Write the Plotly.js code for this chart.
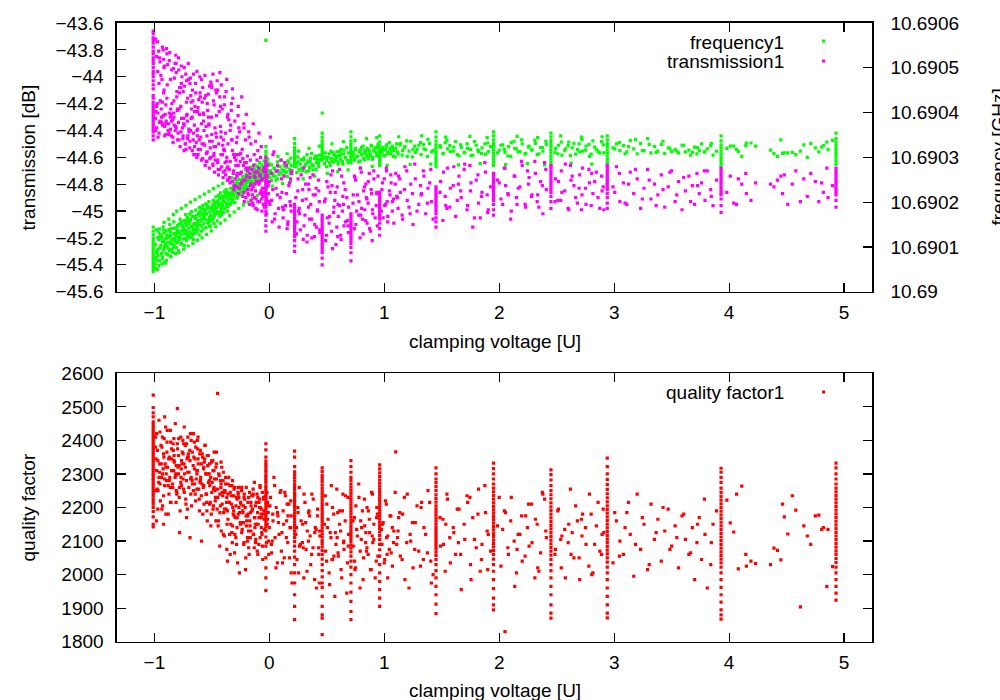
<!DOCTYPE html>
<html><head><meta charset="utf-8">
<script src="https://cdn.plot.ly/plotly-3.0.1.min.js"></script>
<style>html,body{margin:0;padding:0;background:#fff}#chart{width:1000px;height:700px}</style>
</head><body><div id="chart"></div>
<script>
// ---------- scattered measurements (voltage, transmission dB, frequency GHz, quality factor) ----------
const scatterVoltage = [
-0.99,-0.99,-0.98,-0.98,-0.97,-0.97,-0.96,-0.96,-0.95,-0.94,
-0.93,-0.93,-0.92,-0.92,-0.91,-0.91,-0.90,-0.90,-0.89,-0.88,
-0.87,-0.87,-0.86,-0.86,-0.85,-0.85,-0.84,-0.83,-0.83,-0.82,
-0.81,-0.81,-0.80,-0.80,-0.79,-0.79,-0.78,-0.77,-0.77,-0.76,
-0.75,-0.75,-0.74,-0.74,-0.73,-0.72,-0.72,-0.71,-0.71,-0.70,
-0.69,-0.69,-0.68,-0.68,-0.67,-0.66,-0.66,-0.65,-0.65,-0.64,
-0.63,-0.63,-0.62,-0.62,-0.61,-0.60,-0.60,-0.59,-0.59,-0.58,
-0.57,-0.57,-0.56,-0.55,-0.55,-0.54,-0.54,-0.53,-0.52,-0.52,
-0.51,-0.50,-0.50,-0.49,-0.49,-0.48,-0.48,-0.47,-0.46,-0.46,
-0.45,-0.45,-0.44,-0.43,-0.43,-0.42,-0.42,-0.41,-0.40,-0.40,
-0.39,-0.39,-0.38,-0.37,-0.37,-0.36,-0.36,-0.35,-0.34,-0.34,
-0.33,-0.32,-0.32,-0.31,-0.31,-0.30,-0.30,-0.29,-0.28,-0.28,
-0.27,-0.27,-0.26,-0.25,-0.25,-0.24,-0.24,-0.23,-0.22,-0.22,
-0.21,-0.20,-0.20,-0.19,-0.19,-0.18,-0.18,-0.17,-0.16,-0.16,
-0.15,-0.14,-0.14,-0.13,-0.13,-0.12,-0.12,-0.11,-0.10,-0.10,
-0.09,-0.09,-0.08,-0.08,-0.07,-0.07,-0.06,-0.06,-0.05,-0.05,
0.00,0.01,0.02,0.03,0.04,0.05,0.06,0.07,0.08,0.10,
0.11,0.12,0.13,0.14,0.15,0.16,0.17,0.18,0.19,0.19,
0.23,0.24,0.25,0.26,0.27,0.29,0.30,0.31,0.32,0.33,
0.34,0.35,0.36,0.37,0.38,0.40,0.41,0.42,0.43,0.44,
0.48,0.49,0.50,0.52,0.53,0.54,0.55,0.56,0.57,0.58,
0.59,0.60,0.61,0.62,0.63,0.64,0.65,0.66,0.68,0.69,
0.73,0.74,0.75,0.76,0.78,0.79,0.80,0.81,0.82,0.83,
0.84,0.85,0.86,0.87,0.88,0.89,0.90,0.91,0.93,0.94,
0.98,0.99,1.00,1.01,1.02,1.03,1.05,1.06,1.07,1.08,
1.10,1.12,1.14,1.16,1.18,1.20,1.23,1.25,1.27,1.30,
1.32,1.34,1.36,1.38,1.41,1.49,1.51,1.53,1.55,1.57,
1.60,1.62,1.65,1.67,1.70,1.72,1.75,1.77,1.80,1.82,
1.85,1.88,1.90,2.00,2.03,2.05,2.08,2.10,2.13,2.15,
2.18,2.20,2.23,2.26,2.28,2.31,2.33,2.36,2.38,2.41,
2.49,2.51,2.54,2.57,2.60,2.62,2.65,2.68,2.70,2.72,
2.75,2.78,2.80,2.83,2.86,2.89,2.91,2.99,3.02,3.05,
3.08,3.11,3.14,3.17,3.20,3.23,3.26,3.29,3.32,3.35,
3.38,3.41,3.44,3.47,3.50,3.53,3.56,3.59,3.62,3.65,
3.68,3.70,3.72,3.74,3.76,3.79,3.81,3.84,3.86,3.89,
3.98,4.01,4.04,4.08,4.11,4.15,4.19,4.23,4.36,4.39,
4.42,4.45,4.48,4.51,4.55,4.58,4.62,4.65,4.68,4.71,
4.75,4.78,4.82,4.85,4.86,4.90,
-0.985,-0.962,-0.991,-0.948,-0.973,-0.956,-0.982,-0.943,-0.968,-0.951,
-0.938,-0.917,-0.929,-0.902,-0.924,-0.911,-0.934,-0.906,-0.920,-0.897,
-0.891,-0.873,-0.884,-0.858,-0.879,-0.866,-0.852,-0.888,-0.861,-0.847,
-0.842,-0.826,-0.837,-0.811,-0.831,-0.818,-0.804,-0.828,-0.814,-0.799,
-0.794,-0.781,-0.788,-0.763,-0.776,-0.769,-0.757,-0.784,-0.766,-0.752,
-0.746,-0.731,-0.738,-0.716,-0.727,-0.709,-0.721,-0.742,-0.713,-0.704,
-0.698,-0.683,-0.692,-0.671,-0.686,-0.662,-0.677,-0.657,-0.668,-0.652,
-0.647,-0.636,-0.641,-0.623,-0.631,-0.614,-0.626,-0.608,-0.618,-0.603,
-0.597,-0.584,-0.591,-0.572,-0.579,-0.563,-0.575,-0.558,-0.568,-0.553,
-0.548,-0.536,-0.543,-0.522,-0.531,-0.514,-0.526,-0.509,-0.518,-0.503,
-0.497,-0.486,-0.491,-0.473,-0.481,-0.465,-0.477,-0.459,-0.469,-0.454,
-0.448,-0.436,-0.442,-0.421,-0.431,-0.414,-0.426,-0.408,-0.418,-0.402,
-0.397,-0.386,-0.391,-0.372,-0.381,-0.364,-0.376,-0.359,-0.368,-0.353,
-0.348,-0.336,-0.342,-0.322,-0.331,-0.314,-0.326,-0.307,-0.318,-0.302,
-0.297,-0.286,-0.291,-0.272,-0.281,-0.264,-0.276,-0.259,-0.268,-0.253,
-0.247,-0.236,-0.241,-0.222,-0.231,-0.214,-0.226,-0.207,-0.218,-0.202,
-0.197,-0.186,-0.191,-0.172,-0.181,-0.164,-0.176,-0.159,-0.168,-0.153,
-0.147,-0.136,-0.141,-0.122,-0.131,-0.114,-0.126,-0.107,-0.118,-0.102,
-0.097,-0.086,-0.091,-0.072,-0.081,-0.064,-0.076,-0.057,-0.068,-0.052,
-0.047,-0.042,-0.021,-0.016,-0.012,-0.008,-0.044,-0.019,-0.010,-0.005,
0.005,0.018,0.032,0.046,0.058,0.071,0.085,0.094,0.105,0.124,
0.135,0.148,0.162,0.175,0.186,0.197,0.236,0.248,0.262,0.277,
0.288,0.302,0.316,0.328,0.341,0.355,0.368,0.382,0.394,0.407,
0.418,0.428,0.438,0.487,0.498,0.511,0.524,0.536,0.549,0.562,
0.574,0.587,0.598,0.611,0.624,0.636,0.648,0.662,0.674,0.687,
0.728,0.741,0.753,0.766,0.778,0.791,0.803,0.816,0.827,0.838,
0.849,0.861,0.873,0.886,0.897,0.909,0.921,0.934,0.945,0.975,
0.985,1.004,1.018,1.031,1.044,1.057,1.071,1.083,1.095,1.108,
1.115,1.135,1.155,1.175,1.195,1.215,1.245,1.265,1.285,1.315,
1.345,1.375,1.395,1.425,1.485,1.515,1.545,1.575,1.605,1.635,
1.665,1.695,1.725,1.755,1.785,1.815,1.845,1.875,1.905,1.925,
1.985,2.015,2.045,2.075,2.105,2.135,2.165,2.195,2.225,2.255,
2.285,2.315,2.345,2.375,2.405,2.485,2.515,2.545,2.575,2.605,
2.635,2.665,2.695,2.725,2.755,2.785,2.815,2.845,2.875,2.905,
3.005,3.045,3.095,3.125,3.185,3.245,3.305,3.365,3.425,3.485,
3.545,3.605,3.665,3.725,3.785,3.845,4.065,4.145,4.465,4.805,
-0.975,-0.955,-0.935,-0.915,-0.895,-0.875,-0.855,-0.835,-0.815,-0.805,
-0.785,-0.765,-0.745,-0.725,-0.705,-0.685,-0.665,-0.645,-0.625,-0.605,
-0.585,-0.565,-0.545,-0.525,-0.505,-0.485,-0.465,-0.445,-0.425,-0.405,
-0.385,-0.365,-0.345,-0.325,-0.305,-0.285,-0.265,-0.245,-0.225,-0.205,
-0.185,-0.165,-0.145,-0.125,-0.105,-0.085,-0.065,-0.045,-0.025,-0.015,
0.025,0.075,0.115,0.155,0.185,0.255,0.295,0.345,0.395,0.435,
0.505,0.545,0.595,0.645,0.685,0.745,0.795,0.845,0.895,0.935,
1.025,1.125,1.225,1.325,1.405,1.535,1.645,1.745,1.835,1.895,
2.055,2.155,2.245,2.335,2.395,2.535,2.625,2.715,2.805,2.895
];
const scatterTransmission = [
-43.72,-44.31,-43.85,-44.38,-44.27,-43.96,-44.42,-44.05,-44.33,-44.24,
-43.78,-44.36,-44.12,-44.29,-43.92,-44.44,-44.21,-44.35,-43.83,-44.40,
-43.88,-44.27,-44.02,-44.39,-44.33,-43.95,-44.45,-44.18,-44.30,-43.90,
-44.38,-43.97,-44.25,-44.47,-43.86,-44.34,-44.08,-44.41,-44.22,-44.00,
-44.44,-44.11,-43.93,-44.36,-44.50,-44.03,-44.29,-44.46,-44.16,-44.39,
-44.05,-44.48,-44.31,-44.19,-44.55,-43.98,-44.42,-44.26,-44.52,-44.12,
-44.40,-43.96,-44.58,-44.23,-44.47,-44.15,-44.54,-44.02,-44.35,-44.61,
-44.28,-44.50,-43.99,-44.63,-44.37,-44.20,-44.56,-44.30,-44.07,-44.48,
-44.60,-44.08,-44.43,-44.66,-43.98,-44.52,-44.21,-44.62,-44.12,-44.45,
-44.10,-44.64,-44.50,-43.97,-44.69,-44.41,-44.58,-44.24,-44.71,-44.47,
-44.55,-44.15,-44.73,-44.60,-44.02,-44.67,-44.28,-44.76,-44.40,-44.63,
-44.20,-44.78,-44.09,-44.70,-44.58,-44.33,-44.81,-44.62,-44.45,-44.74,
-44.66,-44.22,-44.83,-44.57,-44.72,-44.15,-44.79,-44.61,-44.86,-44.38,
-44.77,-44.64,-44.28,-44.84,-44.70,-44.41,-44.88,-44.75,-44.50,-44.80,
-44.69,-44.82,-44.35,-44.90,-44.74,-44.48,-44.85,-44.78,-44.55,-44.93,
-44.80,-44.42,-44.87,-44.73,-44.91,-44.52,-44.83,-44.76,-44.70,-44.86,
-44.78,-44.45,-44.92,-44.84,-44.56,-45.02,-44.70,-44.88,-44.98,-44.62,
-44.86,-45.05,-44.74,-44.96,-44.66,-45.10,-44.81,-44.93,-44.72,-45.00,
-44.90,-45.08,-44.76,-44.98,-45.14,-44.84,-44.68,-45.03,-44.91,-45.18,
-44.80,-45.06,-44.95,-45.20,-44.73,-44.88,-45.12,-44.99,-44.85,-45.16,
-44.93,-45.22,-44.78,-45.09,-44.86,-45.15,-44.70,-45.01,-44.92,-45.25,
-44.82,-45.04,-44.96,-45.18,-44.74,-44.89,-45.11,-44.84,-45.07,-44.97,
-44.88,-45.13,-44.77,-45.00,-44.93,-45.20,-44.71,-45.06,-44.85,-44.99,
-44.80,-45.09,-44.94,-44.72,-45.15,-44.87,-45.02,-44.76,-44.96,-45.11,
-44.84,-45.05,-44.76,-44.95,-44.70,-45.08,-44.88,-44.79,-45.00,-44.91,
-44.72,-44.98,-44.86,-45.06,-44.67,-44.92,-44.80,-45.10,-44.76,-44.95,
-44.88,-44.70,-45.02,-44.83,-44.93,-44.78,-45.07,-44.89,-44.68,-44.97,
-44.81,-45.04,-44.74,-44.90,-44.65,-44.99,-44.85,-45.12,-44.77,-44.94,
-44.86,-44.71,-45.01,-44.79,-44.95,-44.68,-44.88,-45.06,-44.74,-44.90,
-44.82,-44.66,-44.97,-44.75,-44.89,-44.63,-44.93,-44.78,-45.02,-44.84,
-44.76,-44.92,-44.70,-44.85,-44.98,-44.66,-44.81,-44.94,-44.73,-44.88,
-44.83,-44.69,-44.96,-44.78,-44.90,-44.74,-44.99,-44.82,-44.67,-44.93,
-44.79,-44.95,-44.71,-44.87,-44.76,-44.98,-44.83,-44.69,-44.91,-44.80,
-44.88,-44.73,-44.97,-44.82,-44.70,-44.93,-44.78,-44.99,-44.85,-44.74,
-44.81,-44.95,-44.72,-44.87,-44.79,-44.92,-44.70,-44.84,-44.96,-44.77,
-44.86,-44.74,-44.94,-44.76,-44.80,-44.87,-44.92,-44.79,-44.80,-44.82,
-44.77,-44.74,-44.73,-44.95,-44.80,-44.70,-44.93,-44.76,-44.89,-44.72,
-44.78,-44.93,-44.86,-44.68,-44.90,-44.81,
-44.26,-43.81,-44.40,-44.18,-43.74,-44.34,-44.22,-43.99,-44.45,-43.89,
-44.30,-43.93,-44.19,-44.43,-43.80,-44.37,-44.02,-44.28,-43.87,-44.33,
-44.16,-44.41,-43.91,-44.24,-44.35,-43.82,-44.44,-44.06,-44.30,-44.20,
-44.32,-44.01,-44.49,-43.90,-44.27,-44.40,-44.11,-44.36,-43.84,-44.24,
-44.42,-44.12,-43.95,-44.31,-44.52,-44.08,-44.38,-44.24,-43.92,-44.46,
-44.35,-44.50,-44.07,-44.28,-43.98,-44.44,-44.19,-44.55,-44.33,-44.02,
-44.41,-44.14,-44.53,-44.30,-44.01,-44.47,-44.24,-44.58,-44.10,-44.36,
-44.22,-44.49,-44.05,-44.39,-44.60,-44.17,-44.44,-44.28,-44.54,-44.12,
-44.45,-44.19,-44.62,-44.33,-44.08,-44.51,-44.27,-44.66,-44.40,-44.14,
-44.57,-44.25,-44.44,-44.68,-44.13,-44.53,-44.36,-44.04,-44.61,-44.30,
-44.48,-44.18,-44.65,-44.38,-44.57,-44.10,-44.71,-44.29,-44.52,-44.03,
-44.62,-44.26,-44.73,-44.45,-44.15,-44.67,-44.37,-44.58,-44.06,-44.75,
-44.54,-44.70,-44.21,-44.63,-44.42,-44.77,-44.11,-44.50,-44.68,-44.32,
-44.69,-44.36,-44.79,-44.55,-44.25,-44.72,-44.47,-44.84,-44.16,-44.60,
-44.76,-44.49,-44.66,-44.29,-44.82,-44.58,-44.72,-44.41,-44.87,-44.63,
-44.80,-44.54,-44.71,-44.35,-44.89,-44.64,-44.77,-44.47,-44.93,-44.68,
-44.74,-44.87,-44.59,-44.95,-44.68,-44.81,-44.45,-44.92,-44.72,-44.84,
-44.88,-44.66,-44.96,-44.75,-44.58,-44.91,-44.80,-44.62,-44.98,-44.71,
-44.79,-44.93,-44.68,-44.85,-44.74,-45.00,-44.60,-44.89,-44.77,-44.95,
-44.83,-44.70,-44.91,-44.78,-44.66,-44.87,-44.97,-44.74,-44.81,-44.93,
-44.95,-44.72,-44.58,-45.06,-44.83,-44.66,-45.12,-44.90,-44.76,-44.99,
-44.64,-44.87,-45.08,-44.79,-44.96,-44.70,-45.17,-44.85,-45.02,-44.73,
-44.92,-45.11,-44.80,-45.23,-44.97,-44.75,-45.06,-44.88,-45.19,-44.83,
-45.00,-44.77,-45.14,-44.91,-45.18,-44.82,-45.04,-44.73,-45.28,-44.97,
-44.86,-45.12,-44.95,-44.69,-45.21,-45.00,-44.79,-45.08,-44.90,-45.16,
-44.94,-44.74,-45.10,-44.88,-45.03,-44.68,-44.98,-45.17,-44.82,-45.07,
-44.91,-44.78,-45.13,-44.84,-44.99,-44.70,-45.05,-44.87,-44.74,-45.00,
-44.79,-44.96,-44.68,-45.04,-44.85,-44.73,-44.93,-45.09,-44.80,-44.89,
-44.90,-44.76,-45.03,-44.84,-44.70,-44.97,-44.87,-44.65,-45.00,-44.81,
-44.74,-44.94,-44.79,-45.06,-44.86,-44.71,-44.98,-44.83,-44.67,-44.92,
-44.85,-44.69,-44.96,-44.79,-45.05,-44.73,-44.89,-44.64,-44.99,-44.82,
-44.77,-44.91,-44.68,-44.87,-45.00,-44.74,-44.83,-44.63,-44.95,-44.80,
-44.88,-44.72,-44.97,-44.81,-44.69,-44.93,-44.78,-44.86,-44.65,-44.99,
-44.74,-44.90,-44.83,-44.68,-44.95,-44.79,-44.87,-44.71,-44.98,-44.82,
-44.86,-44.72,-44.94,-44.80,-44.69,-44.91,-44.77,-44.96,-44.84,-44.71,
-44.88,-44.75,-44.93,-44.81,-44.70,-44.89,-44.95,-44.72,-44.87,-44.79,
-44.20,-43.86,-44.34,-44.10,-43.79,-44.43,-44.28,-43.94,-44.37,-44.15,
-44.47,-44.05,-44.31,-44.54,-43.90,-44.40,-44.18,-44.58,-44.26,-44.00,
-44.50,-44.16,-44.63,-44.35,-44.06,-44.59,-44.42,-44.69,-44.22,-44.51,
-44.64,-44.30,-44.75,-44.47,-44.82,-44.58,-44.38,-44.79,-44.66,-44.90,
-44.84,-44.62,-44.94,-44.71,-44.99,-44.78,-44.87,-44.68,-45.02,-44.80,
-45.08,-44.70,-44.97,-45.13,-44.76,-45.00,-45.21,-44.84,-45.10,-44.93,
-45.05,-44.81,-45.19,-44.95,-45.11,-44.75,-45.03,-44.90,-45.22,-44.86,
-44.93,-44.74,-45.02,-44.87,-44.69,-44.96,-44.80,-44.66,-45.05,-44.88,
-44.81,-44.95,-44.70,-44.88,-44.64,-44.92,-44.77,-44.99,-44.72,-44.85
];
const scatterFrequency = [
10.690062,10.690105,10.690088,10.690071,10.690121,10.690095,10.690058,10.690132,10.690099,10.690084,
10.690112,10.690077,10.690093,10.690138,10.690066,10.690102,10.690119,10.690085,10.690127,10.690097,
10.690091,10.690123,10.690108,10.690079,10.690141,10.690115,10.690088,10.690130,10.690101,10.690118,
10.690125,10.690099,10.690144,10.690110,10.690132,10.690092,10.690121,10.690152,10.690106,10.690136,
10.690118,10.690147,10.690129,10.690103,10.690155,10.690137,10.690114,10.690160,10.690126,10.690142,
10.690133,10.690158,10.690121,10.690146,10.690168,10.690139,10.690117,10.690152,10.690130,10.690164,
10.690145,10.690171,10.690138,10.690159,10.690127,10.690180,10.690149,10.690162,10.690135,10.690175,
10.690166,10.690152,10.690184,10.690143,10.690173,10.690160,10.690190,10.690155,10.690178,10.690147,
10.690170,10.690186,10.690158,10.690195,10.690164,10.690181,10.690152,10.690199,10.690174,10.690188,
10.690179,10.690203,10.690192,10.690168,10.690210,10.690185,10.690197,10.690214,10.690177,10.690205,
10.690200,10.690187,10.690217,10.690195,10.690224,10.690208,10.690190,10.690221,10.690212,10.690198,
10.690219,10.690206,10.690231,10.690215,10.690227,10.690199,10.690238,10.690222,10.690210,10.690234,
10.690228,10.690241,10.690216,10.690236,10.690224,10.690248,10.690233,10.690219,10.690244,10.690230,
10.690239,10.690252,10.690227,10.690245,10.690258,10.690235,10.690249,10.690262,10.690240,10.690255,
10.690247,10.690260,10.690238,10.690254,10.690266,10.690243,10.690257,10.690270,10.690250,10.690263,
10.690258,10.690245,10.690269,10.690253,10.690264,10.690274,10.690249,10.690261,10.690271,10.690256,
10.690255,10.690270,10.690248,10.690263,10.690276,10.690258,10.690268,10.690252,10.690280,10.690265,
10.690272,10.690260,10.690284,10.690267,10.690278,10.690257,10.690288,10.690270,10.690282,10.690264,
10.690279,10.690266,10.690290,10.690274,10.690285,10.690270,10.690294,10.690281,10.690268,10.690288,
10.690292,10.690277,10.690298,10.690284,10.690272,10.690302,10.690288,10.690295,10.690280,10.690305,
10.690286,10.690300,10.690293,10.690308,10.690282,10.690297,10.690311,10.690289,10.690304,10.690295,
10.690302,10.690290,10.690313,10.690296,10.690307,10.690285,10.690316,10.690300,10.690293,10.690310,
10.690305,10.690294,10.690318,10.690301,10.690312,10.690292,10.690322,10.690308,10.690298,10.690315,
10.690309,10.690320,10.690297,10.690314,10.690304,10.690325,10.690300,10.690317,10.690311,10.690323,
10.690312,10.690322,10.690305,10.690318,10.690328,10.690309,10.690320,10.690314,10.690325,10.690302,
10.690320,10.690308,10.690331,10.690315,10.690324,10.690302,10.690336,10.690318,10.690311,10.690327,
10.690306,10.690329,10.690317,10.690340,10.690312,10.690323,10.690308,10.690333,10.690319,10.690326,
10.690314,10.690335,10.690303,10.690322,10.690310,10.690330,10.690318,10.690305,10.690327,10.690313,
10.690321,10.690307,10.690332,10.690316,10.690328,10.690311,10.690324,10.690302,10.690336,10.690319,
10.690313,10.690330,10.690309,10.690325,10.690317,10.690338,10.690306,10.690322,10.690314,10.690329,
10.690320,10.690308,10.690334,10.690315,10.690326,10.690304,10.690331,10.690318,10.690312,10.690340,
10.690316,10.690329,10.690307,10.690323,10.690313,10.690335,10.690310,10.690321,10.690330,10.690315,
10.690326,10.690312,10.690338,10.690319,10.690308,10.690331,10.690315,10.690342,10.690310,10.690324,
10.690314,10.690329,10.690309,10.690321,10.690313,10.690318,10.690310,10.690327,10.690312,10.690316,
10.690311,10.690323,10.690308,10.690315,10.690330,10.690312,10.690319,10.690326,10.690305,10.690314,
10.690320,10.690325,10.690325,10.690313,10.690302,10.690332,10.690332,10.690325,10.690316,10.690309,
10.690302,10.690339,10.690310,10.690310,10.690311,10.690306,10.690314,10.690328,10.690300,10.690331,
10.690321,10.690312,10.690326,10.690334,10.690318,10.690338,
10.690078,10.690116,10.690052,10.690127,10.690091,10.690069,10.690138,10.690103,10.690081,10.690119,
10.690086,10.690131,10.690074,10.690109,10.690145,10.690097,10.690122,10.690064,10.690114,10.690136,
10.690102,10.690139,10.690083,10.690126,10.690111,10.690150,10.690094,10.690121,10.690133,10.690107,
10.690118,10.690142,10.690099,10.690130,10.690156,10.690113,10.690137,10.690104,10.690125,10.690148,
10.690122,10.690151,10.690134,10.690108,10.690162,10.690128,10.690145,10.690117,10.690157,10.690136,
10.690140,10.690119,10.690159,10.690131,10.690172,10.690126,10.690148,10.690137,10.690166,10.690121,
10.690152,10.690129,10.690173,10.690144,10.690161,10.690135,10.690179,10.690150,10.690127,10.690168,
10.690163,10.690141,10.690182,10.690155,10.690134,10.690176,10.690148,10.690188,10.690159,10.690170,
10.690158,10.690185,10.690147,10.690173,10.690192,10.690162,10.690140,10.690180,10.690168,10.690196,
10.690174,10.690153,10.690194,10.690166,10.690186,10.690145,10.690201,10.690171,10.690160,10.690189,
10.690183,10.690204,10.690164,10.690195,10.690177,10.690212,10.690170,10.690199,10.690188,10.690158,
10.690198,10.690176,10.690215,10.690189,10.690207,10.690172,10.690221,10.690193,10.690181,10.690211,
10.690203,10.690186,10.690224,10.690197,10.690213,10.690180,10.690228,10.690206,10.690192,10.690219,
10.690214,10.690231,10.690195,10.690223,10.690208,10.690237,10.690200,10.690227,10.690218,10.690242,
10.690225,10.690209,10.690239,10.690218,10.690246,10.690229,10.690212,10.690235,10.690251,10.690221,
10.690236,10.690222,10.690250,10.690231,10.690257,10.690243,10.690227,10.690254,10.690238,10.690262,
10.690244,10.690260,10.690233,10.690253,10.690268,10.690241,10.690257,10.690274,10.690247,10.690236,
10.690256,10.690241,10.690267,10.690249,10.690275,10.690259,10.690244,10.690271,10.690252,10.690280,
10.690263,10.690248,10.690277,10.690258,10.690269,10.690283,10.690254,10.690272,10.690261,10.690278,
10.690266,10.690279,10.690255,10.690271,10.690284,10.690260,10.690275,10.690252,10.690268,10.690287,
10.690266,10.690283,10.690258,10.690275,10.690249,10.690290,10.690262,10.690279,10.690294,10.690271,
10.690280,10.690267,10.690292,10.690274,10.690298,10.690263,10.690286,10.690301,10.690272,10.690295,
10.690276,10.690299,10.690284,10.690306,10.690270,10.690291,10.690309,10.690281,10.690297,10.690273,
10.690303,10.690286,10.690295,10.690310,10.690279,10.690300,10.690288,10.690314,10.690292,10.690306,
10.690296,10.690312,10.690285,10.690304,10.690318,10.690291,10.690308,10.690299,10.690322,10.690288,
10.690311,10.690297,10.690320,10.690303,10.690290,10.690316,10.690306,10.690325,10.690295,10.690313,
10.690302,10.690318,10.690307,10.690327,10.690296,10.690314,10.690321,10.690304,10.690329,10.690310,
10.690317,10.690304,10.690326,10.690312,10.690333,10.690308,10.690322,10.690315,10.690301,10.690330,
10.690312,10.690328,10.690305,10.690321,10.690337,10.690314,10.690301,10.690325,10.690318,10.690333,
10.690319,10.690302,10.690331,10.690315,10.690326,10.690309,10.690338,10.690313,10.690323,10.690306,
10.690328,10.690311,10.690320,10.690304,10.690335,10.690316,10.690309,10.690330,10.690313,10.690324,
10.690310,10.690327,10.690318,10.690303,10.690333,10.690320,10.690312,10.690339,10.690307,10.690323,
10.690316,10.690331,10.690308,10.690322,10.690336,10.690311,10.690327,10.690305,10.690319,10.690334,
10.690321,10.690307,10.690330,10.690314,10.690325,10.690302,10.690337,10.690318,10.690310,10.690328,
10.690319,10.690333,10.690308,10.690324,10.690340,10.690315,10.690329,10.690311,10.690336,10.690320,
10.690314,10.690327,10.690305,10.690322,10.690312,10.690331,10.690318,10.690326,10.690309,10.690323,
10.690050,10.690140,10.690062,10.690155,10.690070,10.690162,10.690078,10.690172,10.690085,10.690180,
10.690088,10.690186,10.690095,10.690192,10.690102,10.690200,10.690108,10.690206,10.690115,10.690212,
10.690120,10.690218,10.690128,10.690224,10.690136,10.690230,10.690145,10.690236,10.690153,10.690242,
10.690160,10.690248,10.690170,10.690254,10.690178,10.690260,10.690186,10.690266,10.690194,10.690272,
10.690200,10.690278,10.690208,10.690284,10.690215,10.690288,10.690222,10.690292,10.690230,10.690296,
10.690236,10.690302,10.690242,10.690308,10.690246,10.690314,10.690252,10.690320,10.690258,10.690325,
10.690264,10.690330,10.690268,10.690335,10.690272,10.690338,10.690276,10.690342,10.690280,10.690344,
10.690282,10.690346,10.690284,10.690348,10.690285,10.690345,10.690283,10.690347,10.690286,10.690344,
10.690284,10.690347,10.690286,10.690344,10.690283,10.690348,10.690287,10.690345,10.690285,10.690346
];
const scatterQuality = [
2380,2250,2310,2420,2195,2340,2290,2460,2270,2330,
2300,2410,2235,2360,2470,2285,2320,2180,2395,2265,
2350,2280,2430,2215,2310,2375,2260,2405,2340,2290,
2325,2250,2390,2495,2300,2355,2125,2410,2275,2330,
2285,2360,2440,2245,2320,2390,2170,2305,2350,2260,
2340,2110,2400,2290,2365,2250,2420,2315,2270,2380,
2300,2255,2345,2410,2225,2370,2280,2330,2100,2350,
2265,2320,2385,2240,2300,2160,2355,2275,2330,2210,
2290,2245,2340,2195,2310,2260,2365,2220,2285,2330,
2540,2255,2300,2185,2240,2335,2270,2210,2305,2120,
2250,2195,2290,2075,2230,2165,2270,2215,2060,2245,
2210,2280,2145,2235,2190,2260,2120,2205,2170,2225,
2180,2240,2005,2150,2215,2125,2260,2185,2095,2230,
2200,2145,2260,2110,2175,2230,2080,2160,2215,2130,
2190,2240,2120,2170,2275,2095,2205,2150,2230,2060,
2170,2215,2110,2260,2140,2195,2245,2085,2180,2225,
2140,2230,2065,2180,2290,2110,2200,2035,2155,2250,
2125,2190,2050,2235,2160,2095,2210,2140,2005,2175,
2120,2045,2185,2260,2090,2150,1990,2215,2075,2130,
2100,2175,2030,2240,2080,2140,1960,2195,2060,2115,
2150,2070,2210,2005,2125,2265,2045,2180,1935,2090,
2110,2055,2190,2130,1990,2240,2075,2160,2035,2120,
2085,2170,2020,2135,2230,1960,2105,2190,2050,2145,
2125,2200,2060,2165,2015,2245,2095,2150,2040,2180,
2090,2155,2035,2220,2110,1990,2175,2065,2140,2095,
2366,2130,2055,2180,1985,2240,2100,2020,2155,2070,
2200,2045,2120,2250,1975,2085,2165,2010,2225,2110,
2140,2060,2195,1955,2105,2235,2030,2170,2080,2255,
2090,2185,2015,2230,2135,1830,2060,2160,2100,2005,
2120,2040,2175,2085,2210,1990,2150,2065,2240,2110,
2075,2190,2020,2135,2095,2255,2050,2160,1985,2115,
2140,2025,2180,2090,2215,2060,2125,2035,2160,2100,
2060,2185,2120,1995,2240,2075,2150,2015,2210,2105,
2165,2040,2130,2195,2085,2145,2020,2175,2105,2060,
2140,1985,2095,2170,2045,2120,1960,2030,2150,2190,
2222,2154,2127,2017,2264,2025,2040,2033,2030,2079,
2072,2044,2172,2121,2235,2192,1904,2145,2115,2090,
2175,2177,2140,1964,2135,2024,
2345,2275,2410,2220,2370,2305,2160,2385,2250,2425,
2290,2350,2205,2440,2315,2265,2380,2330,2150,2300,
2365,2240,2320,2395,2180,2290,2345,2430,2260,2310,
2270,2335,2390,2215,2310,2450,2245,2355,2295,2375,
2320,2260,2405,2340,2190,2290,2365,2230,2315,2400,
2255,2385,2300,2345,2225,2410,2280,2330,2195,2360,
2305,2240,2370,2280,2420,2325,2205,2350,2270,2395,
2345,2285,2220,2375,2310,2255,2400,2190,2330,2275,
2290,2360,2235,2315,2180,2345,2260,2385,2210,2300,
2240,2325,2190,2280,2355,2215,2300,2145,2265,2335,
2275,2205,2340,2250,2310,2160,2285,2365,2230,2195,
2230,2295,2160,2260,2085,2320,2205,2245,2130,2280,
2185,2250,2115,2215,2270,2040,2195,2240,2150,2290,
2215,2150,2265,2095,2235,2180,2125,2255,2200,2065,
2170,2230,2110,2245,2140,2200,2035,2185,2260,2155,
2210,2135,2250,2090,2190,2225,2155,2015,2240,2175,
2160,2215,2100,2245,2130,2185,2060,2205,2145,2235,
2195,2120,2255,2150,2080,2215,2170,2240,2105,2185,
2150,2225,2090,2180,2265,2120,2200,2045,2170,2230,
2190,2135,2245,2165,2205,2100,2230,2150,2185,2060,
2205,2090,2160,2265,2020,2185,2120,2245,2070,2150,
2245,2110,2175,2050,2220,1975,2140,2200,2085,2160,
2095,2240,2155,2010,2185,2115,2060,2225,1985,2135,
2175,2080,2130,2235,2040,2165,1970,2110,2200,2055,
2125,2255,2065,2150,2015,2190,2100,2235,1945,2085,
2160,2040,2205,2115,2270,2070,2140,1985,2225,2095,
2080,2190,2125,2015,2240,2105,1990,2170,2055,2135,
2150,2045,2210,2115,2075,2175,2025,2130,2245,2090,
2110,2185,2045,2230,2095,1960,2155,2075,2205,2025,
2140,2065,2215,2000,2170,2090,2240,2035,2125,2195,
2060,2150,2215,1985,2105,2180,2045,2265,2120,2070,
2145,2025,2190,2080,2230,1965,2120,2175,2055,2210,
2095,2165,2010,2245,2130,2060,2195,2115,1990,2150,
2125,2205,2050,2180,2090,2240,2005,2145,2070,2195,
2185,2055,2140,2215,2090,2170,2030,2125,2200,2075,
2110,2180,2065,2150,2225,2095,2240,2060,2210,2135,
2255,2330,2195,2405,2280,2345,2215,2370,2300,2240,
2325,2265,2390,2210,2350,2285,2420,2240,2310,2360,
2270,2335,2215,2300,2180,2255,2320,2145,2280,2235,
2245,2190,2120,2265,2175,2090,2230,2155,2205,2050,
2180,2110,2235,2140,2070,2200,2125,2165,2095,2215,
2100,2175,2035,2210,2140,2005,2080,2190,2125,1975,
2140,2045,2185,2095,2230,2015,2160,2070,2115,2200,
2060,2170,2120,2215,2040,2150,2095,2230,2010,2130,
2185,2075,2140,2020,2225,2105,2060,2165,2000,2120
];

// ---------- measurements held at fixed clamping voltages (vertical stripes) ----------
const stripeVoltage = [-1.01, -0.03, 0.22, 0.46, 0.71, 0.96, 1.45, 1.95, 2.45, 2.94, 3.93, 4.93];
const stripeTransmission = [
  [-43.66,-43.68,-43.71,-43.73,-43.75,-43.78,-43.81,-43.83,-43.86,-43.88,-43.90,-43.93,-43.96,-43.98,-44.00,-44.03,-44.06,-44.09,-44.14,-44.16,-44.19,-44.21,-44.23,-44.25,-44.27,-44.29,-44.31,-44.33,-44.35,-44.37,-44.39,-44.41,-44.44,-44.47],
  [-44.60,-44.63,-44.65,-44.67,-44.69,-44.71,-44.73,-44.75,-44.77,-44.79,-44.81,-44.83,-44.85,-44.87,-44.89,-44.91,-44.93,-44.95,-44.97,-45.00,-45.03,-45.07,-45.11,-45.15],
  [-44.95,-44.97,-44.99,-45.01,-45.03,-45.05,-45.07,-45.09,-45.11,-45.13,-45.15,-45.17,-45.19,-45.22,-45.26,-45.30],
  [-45.03,-45.05,-45.07,-45.09,-45.11,-45.13,-45.15,-45.17,-45.19,-45.21,-45.23,-45.25,-45.27,-45.29,-45.31,-45.35,-45.40],
  [-45.02,-45.04,-45.06,-45.08,-45.10,-45.12,-45.14,-45.16,-45.18,-45.20,-45.22,-45.24,-45.27,-45.31,-45.37],
  [-44.86,-44.88,-44.90,-44.92,-44.94,-44.96,-44.98,-45.00,-45.02,-45.04,-45.06,-45.09,-45.13,-45.18],
  [-44.82,-44.84,-44.86,-44.88,-44.90,-44.92,-44.94,-44.96,-44.98,-45.00,-45.02,-45.05,-45.08,-45.12],
  [-44.72,-44.74,-44.76,-44.78,-44.80,-44.82,-44.84,-44.86,-44.88,-44.90,-44.92,-44.95,-44.99,-45.03],
  [-44.66,-44.68,-44.70,-44.72,-44.74,-44.76,-44.78,-44.80,-44.82,-44.84,-44.86,-44.89,-44.93,-44.98],
  [-44.66,-44.68,-44.70,-44.72,-44.74,-44.76,-44.78,-44.80,-44.82,-44.84,-44.87,-44.90,-44.94,-44.98],
  [-44.68,-44.70,-44.72,-44.74,-44.76,-44.78,-44.80,-44.82,-44.84,-44.86,-44.88,-44.91,-44.96,-45.01],
  [-44.68,-44.70,-44.72,-44.74,-44.76,-44.78,-44.80,-44.82,-44.84,-44.86,-44.88,-44.92,-44.97]
];
const stripeFrequency = [
  [10.690045,10.690052,10.690058,10.690064,10.690070,10.690076,10.690082,10.690088,10.690094,10.690100,10.690106,10.690112,10.690119,10.690127,10.690135,10.690144],
  [10.690243,10.690250,10.690256,10.690262,10.690268,10.690274,10.690280,10.690286,10.690292,10.690298,10.690305,10.690313,10.690324,10.690561],
  [10.690279,10.690285,10.690291,10.690297,10.690303,10.690309,10.690315,10.690322,10.690331,10.690342],
  [10.690294,10.690300,10.690306,10.690312,10.690318,10.690324,10.690330,10.690337,10.690345,10.690354,10.690399],
  [10.690288,10.690294,10.690300,10.690306,10.690312,10.690318,10.690324,10.690330,10.690337,10.690346,10.690357],
  [10.690282,10.690288,10.690294,10.690300,10.690306,10.690312,10.690318,10.690325,10.690334,10.690348],
  [10.690279,10.690286,10.690293,10.690300,10.690307,10.690314,10.690321,10.690328,10.690336,10.690345,10.690357],
  [10.690282,10.690289,10.690296,10.690303,10.690310,10.690317,10.690324,10.690331,10.690339,10.690348,10.690357],
  [10.690282,10.690289,10.690296,10.690303,10.690310,10.690317,10.690324,10.690331,10.690338,10.690346,10.690354],
  [10.690282,10.690289,10.690296,10.690303,10.690310,10.690317,10.690324,10.690331,10.690339,10.690348],
  [10.690279,10.690286,10.690293,10.690300,10.690307,10.690314,10.690321,10.690328,10.690337,10.690348],
  [10.690285,10.690292,10.690299,10.690306,10.690313,10.690320,10.690327,10.690334,10.690342,10.690354]
];
const stripeQuality = [
  [2535,2498,2482,2470,2455,2447,2438,2430,2422,2415,2407,2400,2392,2385,2377,2370,2362,2355,2347,2340,2332,2325,2317,2310,2302,2295,2287,2280,2272,2265,2257,2250,2242,2235,2226,2218,2210,2200,2188,2172,2150,2142],
  [2390,2372,2350,2338,2329,2321,2312,2305,2296,2288,2281,2273,2264,2257,2249,2240,2233,2225,2216,2209,2200,2192,2185,2176,2168,2160,2151,2143,2131,2112,2085,2050,2020,1990,1952],
  [2368,2350,2322,2306,2297,2288,2279,2270,2262,2253,2244,2236,2227,2218,2209,2201,2192,2183,2174,2166,2157,2148,2139,2130,2121,2110,2098,2085,2070,2052,2030,2005,1975,1940,1905,1866],
  [2318,2307,2296,2286,2277,2267,2258,2249,2240,2231,2222,2212,2203,2194,2185,2176,2167,2158,2148,2139,2130,2121,2112,2102,2093,2083,2072,2060,2046,2030,2012,1993,1975,1962,1935,1905,1880,1870,1821],
  [2340,2322,2305,2290,2280,2270,2261,2252,2243,2234,2225,2216,2207,2198,2189,2180,2171,2162,2153,2144,2135,2126,2117,2108,2099,2089,2079,2068,2055,2040,2022,2000,1975,1948,1920,1890,1866],
  [2327,2315,2303,2292,2282,2273,2264,2255,2246,2237,2228,2219,2210,2201,2192,2183,2174,2165,2156,2147,2137,2127,2116,2104,2090,2074,2055,2030,2005,1980,1955,1930,1905],
  [2318,2300,2285,2274,2262,2250,2238,2227,2216,2205,2195,2186,2177,2168,2159,2150,2141,2132,2123,2114,2105,2096,2087,2078,2068,2057,2045,2030,2012,1990,1965,1940,1912,1884],
  [2332,2316,2300,2285,2270,2258,2247,2236,2225,2214,2203,2193,2183,2173,2163,2153,2143,2133,2123,2113,2103,2093,2083,2072,2060,2046,2030,2010,1985,1958,1930,1910,1895],
  [2312,2298,2282,2265,2250,2238,2226,2214,2202,2191,2180,2169,2158,2147,2136,2125,2114,2103,2092,2081,2070,2058,2045,2030,2012,1990,1965,1940,1910,1885,1870],
  [2347,2322,2300,2284,2268,2254,2241,2229,2217,2205,2194,2183,2172,2161,2150,2139,2128,2117,2106,2095,2084,2073,2062,2050,2037,2022,2005,1985,1960,1935,1910,1885,1871],
  [2317,2305,2290,2275,2258,2245,2233,2222,2211,2200,2189,2178,2167,2156,2145,2134,2123,2112,2101,2090,2079,2068,2057,2046,2035,2022,2005,1985,1962,1940,1918,1895,1880,1867],
  [2332,2318,2300,2285,2270,2258,2247,2236,2225,2214,2203,2192,2181,2170,2159,2148,2137,2126,2115,2104,2093,2082,2071,2060,2048,2036,2022,2005,1985,1965,1945,1924]
];

// ---------- axis ticks / labels ----------
const frequencyTicks = [10.69, 10.6901, 10.6902, 10.6903, 10.6904, 10.6905, 10.6906];
const frequencyTickLabels = ['10.69', '10.6901', '10.6902', '10.6903', '10.6904', '10.6905', '10.6906'];
const seriesNames = ['frequency1', 'transmission1', 'quality factor1'];
const seriesColors = ['#00ff00', '#ff00ff', '#ff0000'];

function combine(values, stripes) {
  const n = Math.min(scatterVoltage.length, values.length);
  const x = scatterVoltage.slice(0, n), y = values.slice(0, n);
  stripes.forEach((grp, i) => grp.forEach(v => { x.push(stripeVoltage[i]); y.push(v); }));
  return {x, y};
}
const fr = combine(scatterFrequency, stripeFrequency);
const tr = combine(scatterTransmission, stripeTransmission);
const qf = combine(scatterQuality, stripeQuality);

const mk = c => ({symbol: 'square', size: 3.2, color: c, line: {width: 0}});
const traces = [
  {type: 'scatter', mode: 'markers', name: seriesNames[0], x: fr.x, y: fr.y, xaxis: 'x', yaxis: 'y', marker: mk(seriesColors[0])},
  {type: 'scatter', mode: 'markers', name: seriesNames[1], x: tr.x, y: tr.y, xaxis: 'x', yaxis: 'y2', marker: mk(seriesColors[1])},
  {type: 'scatter', mode: 'markers', name: seriesNames[2], x: qf.x, y: qf.y, xaxis: 'x2', yaxis: 'y3', marker: mk(seriesColors[2])}
];

const FONT = {family: 'Liberation Sans, Arial, Helvetica, sans-serif', size: 19, color: '#000'};
const common = {ticks: 'inside', ticklen: 9, tickwidth: 1.2, tickcolor: '#000', showline: true, linecolor: '#000', linewidth: 1.6,
  showgrid: false, zeroline: false, tickfont: FONT, fixedrange: true};
const xa = Object.assign({}, common, {range: [-1.325, 5.243], tick0: 0, dtick: 1, mirror: 'ticks', ticklabelstandoff: 3});

const PW = 755, L = 117;
const px = p => (p - L) / PW;          // pixel x -> paper
const py = p => 1 - p / 700;           // pixel y -> paper

const layout = {
  width: 1000, height: 700, margin: {l: L, r: 128, t: 0, b: 0},
  paper_bgcolor: '#fff', plot_bgcolor: '#fff', showlegend: false, font: FONT,
  xaxis: Object.assign({}, xa, {anchor: 'y'}),
  yaxis: Object.assign({}, common, {domain: [0.58329, 0.96714], range: [10.69, 10.6906], side: 'right', anchor: 'x',
    tickmode: 'array', tickvals: frequencyTicks, ticktext: frequencyTickLabels, mirror: false, ticklabelstandoff: 13}),
  yaxis2: Object.assign({}, common, {overlaying: 'y', range: [-45.6, -43.6], tick0: -45.6, dtick: 0.2, side: 'left', anchor: 'x', mirror: false, ticklabelstandoff: 8}),
  xaxis2: Object.assign({}, xa, {anchor: 'y3'}),
  yaxis3: Object.assign({}, common, {domain: [0.08329, 0.46671], range: [1800, 2600], tick0: 1800, dtick: 100, anchor: 'x2', mirror: 'ticks', ticklabelstandoff: 8}),
  annotations: [
    {text: 'transmission [dB]', xref: 'paper', yref: 'paper', x: px(28), y: py(157.5), textangle: -90, showarrow: false, font: FONT, xanchor: 'center', yanchor: 'middle'},
    {text: 'frequency [GHz]', xref: 'paper', yref: 'paper', x: px(998), y: py(157.5), textangle: -90, showarrow: false, font: FONT, xanchor: 'center', yanchor: 'middle'},
    {text: 'clamping voltage [U]', xref: 'paper', yref: 'paper', x: 0.5, y: py(341.7), showarrow: false, font: FONT, xanchor: 'center', yanchor: 'middle'},
    {text: 'quality factor', xref: 'paper', yref: 'paper', x: px(28), y: py(507.5), textangle: -90, showarrow: false, font: FONT, xanchor: 'center', yanchor: 'middle'},
    {text: 'clamping voltage [U]', xref: 'paper', yref: 'paper', x: 0.5, y: py(690.5), showarrow: false, font: FONT, xanchor: 'center', yanchor: 'middle'},
    {text: seriesNames[0], xref: 'paper', yref: 'paper', x: px(786), y: py(42), showarrow: false, font: FONT, xanchor: 'right', yanchor: 'middle'},
    {text: seriesNames[1], xref: 'paper', yref: 'paper', x: px(786), y: py(62), showarrow: false, font: FONT, xanchor: 'right', yanchor: 'middle'},
    {text: seriesNames[2], xref: 'paper', yref: 'paper', x: px(786), y: py(392), showarrow: false, font: FONT, xanchor: 'right', yanchor: 'middle'}
  ],
  shapes: [
    {type: 'rect', xref: 'paper', yref: 'paper', x0: px(822), x1: px(825), y0: py(42.5), y1: py(39.5), fillcolor: seriesColors[0], line: {width: 0}},
    {type: 'rect', xref: 'paper', yref: 'paper', x0: px(822), x1: px(825), y0: py(62.5), y1: py(59.5), fillcolor: seriesColors[1], line: {width: 0}},
    {type: 'rect', xref: 'paper', yref: 'paper', x0: px(822), x1: px(825), y0: py(393.5), y1: py(390.5), fillcolor: seriesColors[2], line: {width: 0}}
  ]
};

Plotly.newPlot('chart', traces, layout, {staticPlot: true, displayModeBar: false});
</script></body></html>
